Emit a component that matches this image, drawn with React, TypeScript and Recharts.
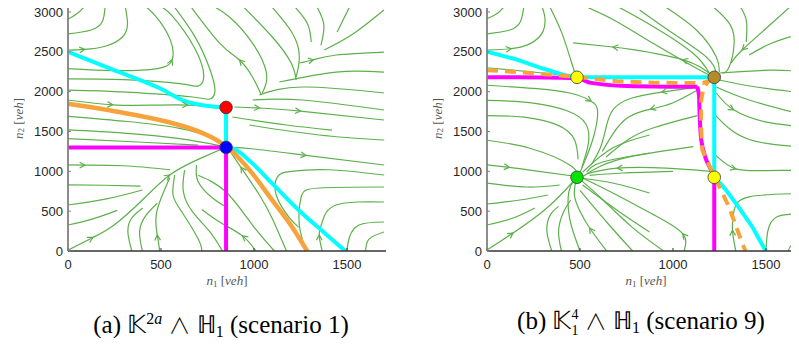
import React from "react";
import { ComposedChart, Line, Scatter, XAxis, YAxis } from "recharts";

type Pt = [number, number];

const X_MAX = 1710;
const Y_MAX = 3100;
const xTicks = [0, 500, 1000, 1500];
const yTicks = [0, 500, 1000, 1500, 2000, 2500, 3000];

// panel (a) streamlines
const leftStreams: Pt[][] = [
  [[0, 2910], [55, 2990], [100, 3100]],
  [[0, 2725], [120, 2770], [185, 2880], [200, 3100]],
  [[0, 2520], [90, 2530], [200, 2570], [290, 2680], [320, 2850], [305, 3100]],
  [[0, 2290], [250, 2265], [480, 2290], [560, 2400], [550, 2650], [470, 2950], [400, 3100]],
  [[0, 2160], [300, 2150], [600, 2100], [700, 2070], [730, 2200], [680, 2550], [560, 2950], [480, 3100]],
  [[0, 2020], [316, 1995], [670, 1933], [760, 1905], [790, 2000], [760, 2300], [680, 2700], [560, 3100]],
  [[0, 1895], [240, 1835], [450, 1830], [643, 1832], [840, 1807]],
  [[650, 3100], [815, 2610], [922, 2397], [992, 2184], [1040, 1958]],
  [[761, 3100], [868, 2937], [992, 2610], [1067, 2234], [1045, 1983]],
  [[0, 1690], [320, 1625], [600, 1540], [760, 1430], [840, 1320]],
  [[0, 1520], [300, 1480], [600, 1410], [820, 1320]],
  [[0, 1410], [400, 1365], [700, 1330]],
  [[0, 1080], [91, 1078], [300, 1070], [550, 1020]],
  [[0, 830], [200, 825], [390, 815]],
  [[0, 577], [200, 650], [400, 766]],
  [[0, 326], [130, 400], [265, 510]],
  [[0, 10], [134, 170], [250, 330], [400, 640], [547, 954], [700, 1150], [845, 1300]],
  [[343, 0], [322, 238], [343, 414], [402, 540]],
  [[400, 0], [385, 250], [420, 450], [480, 600]],
  [[493, 0], [480, 200], [477, 490], [547, 916]],
  [[720, 0], [700, 150], [615, 480], [565, 700], [574, 954]],
  [[831, 0], [760, 250], [670, 490], [620, 750], [627, 1016]],
  [[845, 560], [777, 665], [700, 870], [691, 1079]],
  [[860, 1290], [930, 1050], [1030, 700], [1100, 400], [1175, 0]],
  [[700, 950], [850, 740], [992, 326], [1110, 0]],
  [[720, 520], [815, 364], [938, 190], [1010, 0]],
  [[1700, 954], [1400, 1020], [1200, 1000], [1126, 930], [1120, 700], [1190, 420], [1240, 300]],
  [[1699, 803], [1351, 791], [1254, 678], [1244, 326], [1281, 0]],
  [[1699, 615], [1442, 577], [1367, 364], [1351, 200], [1367, 0]],
  [[1699, 364], [1565, 326], [1512, 163], [1500, 0]],
  [[1699, 238], [1619, 150], [1600, 0]],
  [[870, 1300], [1000, 1280], [1280, 1200], [1700, 1079]],
  [[975, 1581], [1351, 1456], [1700, 1393]],
  [[895, 1807], [1030, 1795], [1250, 1755], [1699, 1644]],
  [[884, 1682], [1174, 1581], [1420, 1518]],
  [[992, 1895], [1260, 1895], [1699, 1770]],
  [[1029, 1958], [1260, 2058], [1699, 1983]],
  [[1136, 2121], [1442, 2246], [1699, 2246]],
  [[1244, 2359], [1320, 2400], [1442, 2460], [1699, 2497]],
  [[1699, 3025], [1530, 2720], [1378, 2523]],
  [[933, 3087], [1099, 2686], [1200, 2359], [1227, 2146]],
  [[1083, 3100], [1206, 2736], [1244, 2435], [1227, 2184]],
  [[1206, 3100], [1286, 2861], [1308, 2623]],
  [[1330, 3100], [1375, 2850], [1360, 2580]],
  [[1522, 3100], [1447, 2748]],
];

// [stream, vertex, direction]
const leftArrowMarks = [
  [2, 1, 1], [3, 3, 1], [6, 1, 1], [6, 3, 1], [7, 2, -1], [12, 1, 1],
  [16, 1, 1], [16, 4, 1], [19, 1, 1], [23, 1, -1], [25, 2, -1], [28, 3, -1],
  [31, 2, 1], [33, 1, 1], [33, 2, 1], [38, 1, 1],
];

const leftCyanUpper: Pt[] = [[0, 2499], [241, 2276], [491, 2045], [634, 1877], [777, 1814], [850, 1804]];
const leftCyanStem: Pt[] = [[850, 1804], [850, 1300]];
const leftCyanLower: Pt[] = [[850, 1300], [884, 1289], [991, 1100], [1098, 848], [1241, 512], [1384, 218], [1491, 0]];
const leftOrange: Pt[] = [[0, 1848], [259, 1751], [527, 1625], [705, 1499], [813, 1373], [884, 1247], [991, 974], [1098, 638], [1205, 302], [1286, 0]];
const leftMagenta: Pt[] = [[0, 1300], [850, 1300], [850, 0]];
const leftPoints: Pt[] = [[850, 1802], [850, 1300]];
const leftPointColors = ["#ff0000", "#0000ff"];

// panel (b) streamlines
const rightStreams: Pt[][] = [
  [[0, 2915], [60, 2990], [104, 3100]],
  [[0, 2726], [120, 2770], [180, 2880], [200, 3100]],
  [[0, 2520], [130, 2540], [230, 2600], [300, 2750], [310, 2950], [290, 3100]],
  [[330, 3100], [400, 2750], [450, 2400], [478, 2200]],
  [[0, 2300], [230, 2250], [460, 2195]],
  [[0, 2080], [250, 2040], [450, 1980], [560, 1880], [595, 1750], [575, 1450], [530, 1150], [495, 960]],
  [[0, 1890], [240, 1860], [430, 1760], [530, 1600], [545, 1350], [510, 1050]],
  [[0, 1700], [200, 1680], [380, 1580], [470, 1400], [490, 1150]],
  [[0, 1390], [230, 1290], [445, 1080], [482, 930]],
  [[0, 1080], [120, 1050], [231, 1016], [482, 935]],
  [[0, 853], [214, 803], [391, 828]],
  [[0, 590], [177, 640], [327, 703]],
  [[0, 326], [140, 414], [257, 540]],
  [[0, 13], [140, 226], [322, 540], [461, 866], [482, 925]],
  [[348, 0], [322, 250], [340, 450], [385, 560]],
  [[400, 0], [385, 250], [410, 480], [450, 640]],
  [[500, 0], [445, 400], [440, 740], [470, 900]],
  [[643, 0], [552, 289], [500, 500], [470, 700], [480, 900]],
  [[783, 0], [643, 364], [500, 760]],
  [[874, 238], [713, 489], [514, 828]],
  [[950, 0], [780, 300], [620, 650], [510, 880]],
  [[1060, 0], [1052, 218], [900, 450], [700, 700], [520, 910]],
  [[874, 1456], [675, 1293], [515, 991]],
  [[874, 1230], [622, 1117], [536, 991]],
  [[1000, 1000], [729, 979], [552, 950]],
  [[874, 728], [675, 853], [498, 916]],
  [[1200, 1000], [963, 1040], [700, 1040], [540, 970]],
  [[1110, 1310], [784, 1190], [606, 1060], [520, 940]],
  [[1140, 2060], [940, 1995], [780, 1920], [680, 1780], [640, 1550], [610, 1300], [560, 1080]],
  [[1140, 2030], [997, 1857], [880, 1780], [760, 1680], [680, 1480], [620, 1250]],
  [[1130, 1700], [900, 1550], [760, 1400], [640, 1180]],
  [[499, 3100], [677, 2906], [891, 2610], [1141, 2274], [1210, 2195]],
  [[677, 3100], [891, 2822], [1106, 2486], [1195, 2238]],
  [[463, 2612], [677, 2560], [784, 2528], [1052, 2402], [1204, 2213]],
  [[820, 3025], [997, 2736], [1179, 2435], [1233, 2234]],
  [[943, 3087], [1126, 2774], [1233, 2435], [1249, 2246]],
  [[1206, 3087], [1302, 2861], [1329, 2610], [1302, 2309], [1265, 2234]],
  [[1356, 3087], [1394, 2899], [1394, 2623]],
  [[1640, 3087], [1533, 2861], [1372, 2523], [1313, 2359]],
  [[1704, 2736], [1533, 2610], [1410, 2460]],
  [[1249, 2234], [1533, 2271], [1704, 2246]],
  [[1249, 2146], [1447, 2058], [1704, 1983]],
  [[1233, 2058], [1410, 1895], [1704, 1707]],
  [[1233, 1983], [1326, 1772], [1499, 1620], [1700, 1560]],
  [[1230, 1700], [1410, 1400], [1673, 1310], [1710, 1300]],
  [[1230, 1200], [1338, 1030], [1500, 1010], [1700, 1010]],
  [[1700, 722], [1410, 680], [1329, 512], [1320, 260], [1338, 0]],
  [[1700, 470], [1560, 430], [1510, 250], [1500, 0]],
  [[1700, 150], [1640, 80], [1620, 0]],
];

const rightArrowMarks = [
  [2, 1, 1], [5, 3, 1], [9, 1, 1], [13, 1, 1], [17, 1, 1], [21, 1, 1],
  [26, 2, 1], [28, 1, 1], [29, 2, 1], [33, 1, -1], [33, 3, -1], [38, 2, 1],
  [43, 1, 1], [45, 1, 1], [46, 3, -1],
];

const rightCyan: Pt[] = [[0, 2500], [150, 2410], [300, 2290], [409, 2213], [460, 2188], [482, 2180], [1222, 2180], [1222, 930], [1280, 780], [1350, 560], [1427, 302], [1499, 0]];
const rightMagentaTop: Pt[] = [[0, 2180], [300, 2178], [482, 2170], [560, 2110], [750, 2071], [1000, 2062], [1131, 2060]];
const rightMagentaDown: Pt[] = [[1131, 2060], [1140, 1950], [1142, 1807], [1152, 1393], [1179, 1142], [1211, 979], [1222, 853], [1222, 0]];
const rightOrange: Pt[] = [[0, 2270], [200, 2240], [480, 2185], [700, 2130], [900, 2112], [1070, 2108], [1160, 2110], [1190, 2130], [1165, 2050], [1152, 1900], [1150, 1600], [1158, 1268], [1200, 1050], [1233, 891], [1300, 560], [1372, 100], [1390, 0]];
const rightPoints: Pt[] = [[484, 2180], [1222, 2180], [1222, 925], [484, 925]];
const rightPointColors = ["#ffff00", "#b38b2b", "#ffff00", "#00e600"];

const GREEN = "#5cb04a";
const CYAN = "#00ffff";
const MAGENTA = "#ff00ff";
const ORANGE = "#f7a23a";

const CW = 400;
const CH = 300;
const MARGIN = { top: 4, right: 14, bottom: 19, left: 8 };
const KX = 318 / X_MAX;
const KY = 247 / Y_MAX;

const xy = (pts: Pt[]) => pts.map(([x, y]) => ({ x, y }));

function arrowData(streams: Pt[][], marks: number[][]) {
  return marks.map(([s, i, dir]) => {
    const p = streams[s];
    const a = p[Math.max(i - 1, 0)];
    const b = p[Math.min(i + 1, p.length - 1)];
    let ang = Math.atan2((b[1] - a[1]) * KY, (b[0] - a[0]) * KX);
    if (dir < 0) ang += Math.PI;
    return { x: p[i][0], y: p[i][1], a: ang };
  });
}

const ArrowHead = (props: any) => {
  const { cx, cy, payload } = props;
  if (cx == null || cy == null) return null;
  const a = payload.a;
  const L = 6;
  const w = 0.5;
  const x1 = cx - L * Math.cos(a - w);
  const y1 = cy + L * Math.sin(a - w);
  const x2 = cx - L * Math.cos(a + w);
  const y2 = cy + L * Math.sin(a + w);
  return (
    <path
      d={`M${x1},${y1}L${cx},${cy}L${x2},${y2}`}
      stroke={GREEN}
      strokeWidth={1.2}
      fill="none"
    />
  );
};

const Marker = (props: any) => {
  const { cx, cy, fill } = props;
  if (cx == null || cy == null) return null;
  return <circle cx={cx} cy={cy} r={6.3} fill={fill} stroke="#3a3a3a" strokeWidth={0.8} />;
};

interface Curve {
  pts: Pt[];
  color: string;
  width: number;
  type: any;
  dash?: string;
}

const tickStyle = { fontSize: 13, fill: "#262626", fontFamily: "'Liberation Sans', Arial, sans-serif" };

function Panel({
  streams,
  marks,
  curves,
  points,
  colors,
}: {
  streams: Pt[][];
  marks: number[][];
  curves: Curve[];
  points: Pt[];
  colors: string[];
}) {
  return (
    <ComposedChart width={CW} height={CH} margin={MARGIN}>
      <XAxis
        type="number"
        dataKey="x"
        domain={[0, X_MAX]}
        ticks={xTicks}
        interval={0}
        allowDataOverflow
        height={30}
        axisLine={{ stroke: "#333", strokeWidth: 1.5 }}
        tickLine={{ stroke: "#333" }}
        tickSize={-3}
        tickMargin={12}
        tick={tickStyle}
      />
      <YAxis
        type="number"
        dataKey="y"
        domain={[0, Y_MAX]}
        ticks={yTicks}
        interval={0}
        allowDataOverflow
        width={60}
        axisLine={{ stroke: "#808080", strokeWidth: 1.8 }}
        tickLine={{ stroke: "#808080" }}
        tickSize={-3}
        tickMargin={8}
        tick={tickStyle}
      />
      {streams.map((s, i) => (
        <Line
          key={"s" + i}
          data={xy(s)}
          dataKey="y"
          type="natural"
          stroke={GREEN}
          strokeWidth={1.2}
          dot={false}
          activeDot={false}
          isAnimationActive={false}
        />
      ))}
      <Scatter data={arrowData(streams, marks)} shape={ArrowHead} isAnimationActive={false} />
      {curves.map((c, i) => (
        <Line
          key={"c" + i}
          data={xy(c.pts)}
          dataKey="y"
          type={c.type}
          stroke={c.color}
          strokeWidth={c.width}
          strokeDasharray={c.dash}
          dot={false}
          activeDot={false}
          isAnimationActive={false}
        />
      ))}
      {points.map((p, i) => (
        <Scatter
          key={"p" + i}
          data={[{ x: p[0], y: p[1] }]}
          fill={colors[i]}
          shape={Marker}
          isAnimationActive={false}
        />
      ))}
    </ComposedChart>
  );
}

const labelFont = "'Liberation Serif', 'Times New Roman', serif";

function AxisLabels({ offset }: { offset: number }) {
  return (
    <>
      <div
        style={{
          position: "absolute",
          left: offset + 227 - 60,
          top: 273,
          width: 120,
          textAlign: "center",
          fontFamily: labelFont,
          fontSize: 13,
          lineHeight: "16px",
          color: "#555",
        }}
      >
        <i>n</i>
        <span style={{ fontSize: 9, verticalAlign: "-0.2em" }}>1</span> [<i>veh</i>]
      </div>
      <div
        style={{
          position: "absolute",
          left: offset + 20 - 60,
          top: 117 - 8,
          width: 120,
          textAlign: "center",
          fontFamily: labelFont,
          fontSize: 13,
          lineHeight: "16px",
          color: "#555",
          transform: "rotate(-90deg)",
        }}
      >
        <i>n</i>
        <span style={{ fontSize: 9, verticalAlign: "-0.2em" }}>2</span> [<i>veh</i>]
      </div>
    </>
  );
}

const capStyle: React.CSSProperties = {
  position: "absolute",
  top: 304,
  width: 420,
  textAlign: "center",
  fontFamily: labelFont,
  fontSize: 25,
  lineHeight: "30px",
  color: "#000",
  whiteSpace: "nowrap",
};

const wedge: React.CSSProperties = {
  fontFamily: "'Noto Sans CJK JP', 'Noto Sans CJK SC', sans-serif",
  fontWeight: 300,
  fontSize: 22,
};

const small: React.CSSProperties = { fontSize: 16 };

export default function App() {
  const leftCurves: Curve[] = [
    { pts: leftMagenta, color: MAGENTA, width: 4, type: "linear" },
    { pts: leftCyanUpper, color: CYAN, width: 4, type: "monotoneX" },
    { pts: leftCyanStem, color: CYAN, width: 4, type: "linear" },
    { pts: leftCyanLower, color: CYAN, width: 4, type: "monotoneX" },
    { pts: leftOrange, color: ORANGE, width: 4.5, type: "monotoneX" },
  ];
  const rightCurves: Curve[] = [
    { pts: rightMagentaTop, color: MAGENTA, width: 4, type: "monotoneX" },
    { pts: rightMagentaDown, color: MAGENTA, width: 4, type: "monotoneY" },
    { pts: rightCyan, color: CYAN, width: 4, type: "linear" },
    { pts: rightOrange, color: ORANGE, width: 4, type: "linear", dash: "11 7" },
  ];
  return (
    <div
      style={{
        position: "relative",
        width: 799,
        height: 346,
        margin: -8,
        overflow: "hidden",
        background: "#fff",
      }}
    >
      <div style={{ position: "absolute", left: 0, top: 0 }}>
        <Panel
          streams={leftStreams}
          marks={leftArrowMarks}
          curves={leftCurves}
          points={leftPoints}
          colors={leftPointColors}
        />
      </div>
      <div style={{ position: "absolute", left: 419, top: 0 }}>
        <Panel
          streams={rightStreams}
          marks={rightArrowMarks}
          curves={rightCurves}
          points={rightPoints}
          colors={rightPointColors}
        />
      </div>
      <AxisLabels offset={0} />
      <AxisLabels offset={419} />
      <div style={{ ...capStyle, left: 221 - 210 }}>
        (a) 𝕂<span style={{ ...small, verticalAlign: "0.55em" }}>2<i>a</i></span>{" "}
        <span style={wedge}>∧</span> ℍ<span style={{ ...small, verticalAlign: "-0.25em" }}>1</span>{" "}
        (scenario 1)
      </div>
      <div style={{ ...capStyle, left: 641 - 210 }}>
        (b) 𝕂
        <span
          style={{
            display: "inline-block",
            fontSize: 14,
            lineHeight: "16px",
            verticalAlign: "-0.45em",
            textAlign: "left",
          }}
        >
          4
          <br />1
        </span>{" "}
        <span style={wedge}>∧</span> ℍ<span style={{ ...small, verticalAlign: "-0.25em" }}>1</span>{" "}
        (scenario 9)
      </div>
    </div>
  );
}
